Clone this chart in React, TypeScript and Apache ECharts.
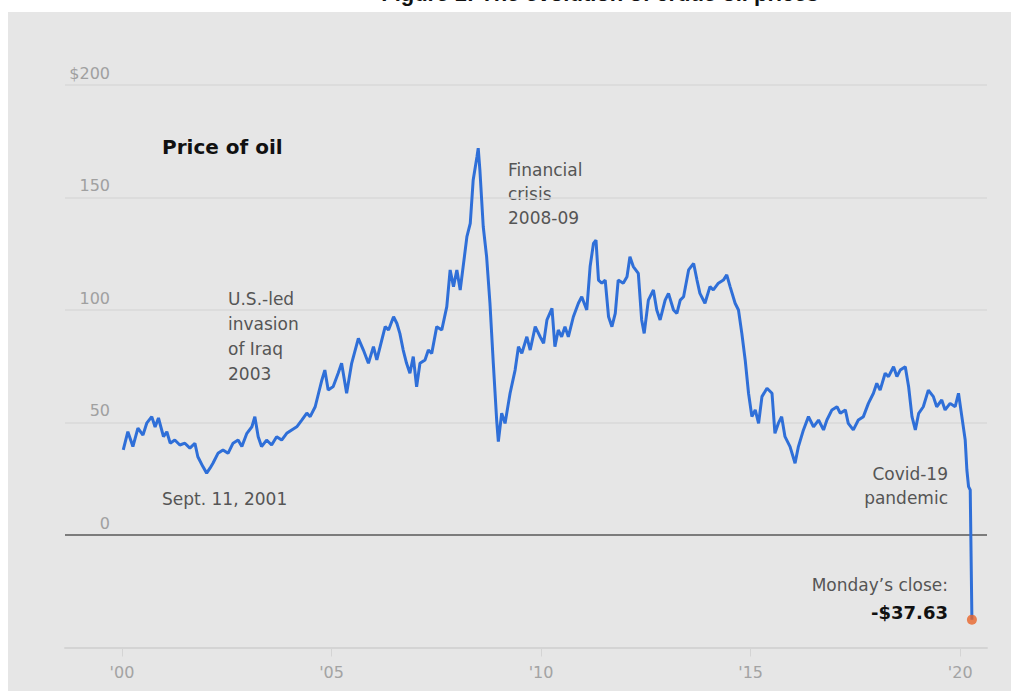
import React, { useEffect, useRef } from "react";
import * as echarts from "echarts";

// Decimal years of each reading
const years: number[] = [
  2000.03, 2000.14, 2000.26, 2000.38, 2000.5, 2000.59, 2000.71, 2000.79, 2000.87, 2000.99,
  2001.07, 2001.15, 2001.26, 2001.38, 2001.5, 2001.62, 2001.74, 2001.81, 2001.93, 2002.02,
  2002.1, 2002.17, 2002.29, 2002.41, 2002.53, 2002.65, 2002.77, 2002.86, 2002.98, 2003.1,
  2003.17, 2003.25, 2003.33, 2003.45, 2003.57, 2003.69, 2003.81, 2003.93, 2004.05, 2004.17,
  2004.29, 2004.41, 2004.49, 2004.61, 2004.69, 2004.77, 2004.84, 2004.92, 2005.04, 2005.16,
  2005.24, 2005.36, 2005.48, 2005.64, 2005.76, 2005.88, 2006.0, 2006.08, 2006.2, 2006.28,
  2006.36, 2006.48, 2006.56, 2006.63, 2006.71, 2006.79, 2006.87, 2006.95, 2007.03, 2007.11,
  2007.23, 2007.31, 2007.39, 2007.51, 2007.63, 2007.75, 2007.83, 2007.91, 2007.99, 2008.07,
  2008.15, 2008.23, 2008.31, 2008.38, 2008.47, 2008.5, 2008.54, 2008.62, 2008.7, 2008.78,
  2008.86, 2008.94, 2008.98, 2009.06, 2009.14, 2009.26, 2009.38, 2009.46, 2009.54, 2009.66,
  2009.74, 2009.86, 2009.98, 2010.06, 2010.14, 2010.26, 2010.33, 2010.41, 2010.49, 2010.57,
  2010.65, 2010.77, 2010.89, 2010.97, 2011.09, 2011.17, 2011.25, 2011.31, 2011.37, 2011.45,
  2011.53, 2011.61, 2011.69, 2011.77, 2011.84, 2011.96, 2012.05, 2012.12, 2012.2, 2012.32,
  2012.4, 2012.46, 2012.56, 2012.68, 2012.76, 2012.84, 2012.96, 2013.04, 2013.16, 2013.24,
  2013.32, 2013.4, 2013.52, 2013.64, 2013.72, 2013.79, 2013.91, 2014.03, 2014.11, 2014.23,
  2014.35, 2014.43, 2014.51, 2014.63, 2014.71, 2014.79, 2014.87, 2014.95, 2015.03, 2015.11,
  2015.19, 2015.27, 2015.39, 2015.51, 2015.58, 2015.66, 2015.74, 2015.82, 2015.94, 2016.06,
  2016.14, 2016.26, 2016.38, 2016.5, 2016.62, 2016.74, 2016.82, 2016.94, 2017.06, 2017.14,
  2017.26, 2017.33, 2017.45, 2017.57, 2017.69, 2017.81, 2017.93, 2018.01, 2018.09, 2018.21,
  2018.29, 2018.41, 2018.49, 2018.57, 2018.69, 2018.77, 2018.85, 2018.93, 2019.01, 2019.12,
  2019.24, 2019.36, 2019.44, 2019.56, 2019.64, 2019.76, 2019.88, 2019.96, 2020.04, 2020.12,
  2020.16, 2020.2, 2020.24, 2020.28,
];

// Price of oil, dollars per barrel
const prices: number[] = [
  37.8, 45.9, 39.3, 47.5, 44.4, 49.7, 52.6, 48.0, 52.0, 43.7,
  45.9, 40.8, 42.2, 40.0, 40.8, 38.6, 40.8, 34.8, 30.4, 27.5,
  29.7, 31.9, 36.3, 37.8, 36.3, 40.8, 42.2, 39.3, 45.2, 48.1,
  52.6, 43.7, 39.3, 42.2, 40.0, 43.7, 42.2, 45.2, 46.7, 48.1,
  51.1, 54.2, 52.6, 57.0, 63.0, 68.9, 73.3, 64.4, 66.0, 72.0,
  76.3, 63.0, 76.3, 87.4, 82.2, 76.3, 83.7, 77.8, 86.7, 92.6,
  91.1, 97.0, 94.0, 89.6, 82.2, 76.3, 71.9, 79.3, 65.9, 76.3,
  77.8, 82.2, 80.7, 92.6, 91.1, 101.5, 117.8, 110.4, 117.8, 108.9,
  120.7, 132.6, 138.5, 157.8, 168.1, 171.9, 162.2, 137.0, 123.7, 103.0,
  76.3, 51.1, 41.5, 54.1, 49.6, 63.0, 73.3, 83.7, 80.7, 88.1,
  82.2, 92.6, 88.0, 85.2, 95.6, 100.7, 83.7, 91.1, 88.1, 92.6,
  88.1, 97.0, 103.0, 105.9, 100.0, 119.3, 129.6, 131.1, 113.3, 111.9,
  113.3, 97.0, 92.6, 98.5, 113.3, 111.9, 114.8, 123.7, 119.3, 116.3,
  95.6, 89.6, 104.4, 108.9, 100.0, 95.6, 104.4, 107.4, 100.0, 98.5,
  104.4, 105.9, 117.8, 120.7, 113.3, 107.4, 103.0, 110.4, 108.9, 111.9,
  113.3, 115.6, 110.4, 103.0, 100.0, 89.6, 77.8, 63.0, 52.6, 55.6,
  49.6, 61.5, 65.2, 63.0, 45.2, 49.6, 52.6, 43.7, 39.3, 31.9,
  39.3, 46.7, 52.6, 48.1, 51.1, 46.7, 51.1, 55.6, 57.0, 54.1,
  55.6, 49.6, 46.7, 51.1, 52.6, 58.5, 63.0, 67.4, 64.4, 71.9,
  70.4, 74.8, 70.4, 73.3, 74.8, 65.9, 52.6, 46.7, 54.1, 57.0,
  64.4, 61.5, 57.0, 60.0, 55.6, 58.5, 57.0, 63.0, 52.6, 42.2,
  28.9, 21.5, 20.0, -37.63,
];

const yTicks: number[] = [-50, 0, 50, 100, 150, 200];
const xTickYears: number[] = [2000, 2005, 2010, 2015, 2020];
const closeYear = 2020.28;
const closeValue = -37.63;

const FONT = "DejaVu Sans";

export default function App() {
  const ref = useRef<HTMLDivElement>(null);

  useEffect(() => {
    document.body.style.margin = "0";
    if (!ref.current) return;
    const chart = echarts.init(ref.current, undefined, { renderer: "svg" });
    const lineData = years.map((y, i) => [y, prices[i]]);

    chart.setOption({
      animation: false,
      backgroundColor: "#ffffff",
      grid: { left: 65, right: 24, top: 85, bottom: 43.5, containLabel: false },
      xAxis: {
        type: "value",
        min: 1998.64,
        max: 2020.64,
        axisLine: { show: true, onZero: false, lineStyle: { color: "#d4d4d4", width: 2 } },
        axisTick: {
          show: true,
          customValues: xTickYears,
          length: 9,
          lineStyle: { color: "#d4d4d4", width: 1 },
        },
        axisLabel: {
          customValues: xTickYears,
          formatter: (v: number) => "'" + String(Math.round(v)).slice(2),
          color: "#a3a3a3",
          fontFamily: FONT,
          fontSize: 16,
          margin: 17,
        },
        splitLine: { show: false },
      },
      yAxis: {
        type: "value",
        min: yTicks[0],
        max: yTicks[yTicks.length - 1],
        interval: 50,
        axisLine: { show: false },
        axisTick: { show: false },
        axisLabel: {
          inside: true,
          margin: 45,
          align: "right",
          verticalAlign: "bottom",
          padding: [0, 0, 4, 0],
          color: "#a0a0a0",
          fontFamily: FONT,
          fontSize: 16,
          formatter: (v: number) => (v < 0 ? "" : v === 200 ? "$200" : String(v)),
        },
        splitLine: {
          show: true,
          lineStyle: {
            color: ["rgba(0,0,0,0)", "rgba(0,0,0,0)", "#d9d9d9", "#d9d9d9", "#d9d9d9", "#d9d9d9"],
            width: 1.5,
          },
        },
      },
      graphic: [
        {
          type: "rect",
          z: -100,
          silent: true,
          shape: { x: 8, y: 12, width: 1011, height: 691 },
          style: { fill: "#e6e6e6" },
        },
        {
          type: "text",
          x: 600,
          y: 4,
          silent: true,
          style: {
            text: "Figure 1: The evolution of crude oil prices",
            fontFamily: "Liberation Sans",
            fontWeight: "bold",
            fontSize: 22,
            fill: "#111",
            align: "center",
            verticalAlign: "bottom",
          },
        },
        {
          type: "text",
          x: 162,
          y: 147,
          style: {
            text: "Price of oil",
            fontFamily: FONT,
            fontWeight: "bold",
            fontSize: 20,
            fill: "#111",
            align: "left",
            verticalAlign: "middle",
          },
        },
        {
          type: "text",
          x: 508,
          y: 194,
          style: {
            text: "Financial\ncrisis\n2008-09",
            fontFamily: FONT,
            fontSize: 17,
            lineHeight: 24,
            fill: "#555",
            align: "left",
            verticalAlign: "middle",
          },
        },
        {
          type: "text",
          x: 228,
          y: 336,
          style: {
            text: "U.S.-led\ninvasion\nof Iraq\n2003",
            fontFamily: FONT,
            fontSize: 17,
            lineHeight: 25,
            fill: "#555",
            align: "left",
            verticalAlign: "middle",
          },
        },
        {
          type: "text",
          x: 162,
          y: 499,
          style: {
            text: "Sept. 11, 2001",
            fontFamily: FONT,
            fontSize: 17,
            fill: "#555",
            align: "left",
            verticalAlign: "middle",
          },
        },
        {
          type: "text",
          x: 948,
          y: 486,
          style: {
            text: "Covid-19\npandemic",
            fontFamily: FONT,
            fontSize: 17,
            lineHeight: 24,
            fill: "#555",
            align: "right",
            verticalAlign: "middle",
          },
        },
        {
          type: "text",
          x: 948,
          y: 585,
          style: {
            text: "Monday\u2019s close:",
            fontFamily: FONT,
            fontSize: 17,
            fill: "#555",
            align: "right",
            verticalAlign: "middle",
          },
        },
        {
          type: "text",
          x: 948,
          y: 612,
          style: {
            text: "-$37.63",
            fontFamily: FONT,
            fontWeight: "bold",
            fontSize: 18,
            fill: "#111",
            align: "right",
            verticalAlign: "middle",
          },
        },
      ],
      series: [
        {
          type: "line",
          data: lineData,
          showSymbol: false,
          symbol: "none",
          lineStyle: { color: "#2f6fd8", width: 3 },
          z: 3,
          markLine: {
            silent: true,
            symbol: ["none", "none"],
            label: { show: false },
            lineStyle: { color: "#7c7c7c", width: 2, type: "solid" },
            data: [{ yAxis: 0 }],
            z: 2,
          },
        },
        {
          type: "scatter",
          data: [[closeYear, closeValue]],
          symbolSize: 10,
          itemStyle: { color: "#e8652a" },
          z: 4,
        },
      ],
    });

    return () => chart.dispose();
  }, []);

  return <div ref={ref} style={{ width: 1011, height: 691 }} />;
}
